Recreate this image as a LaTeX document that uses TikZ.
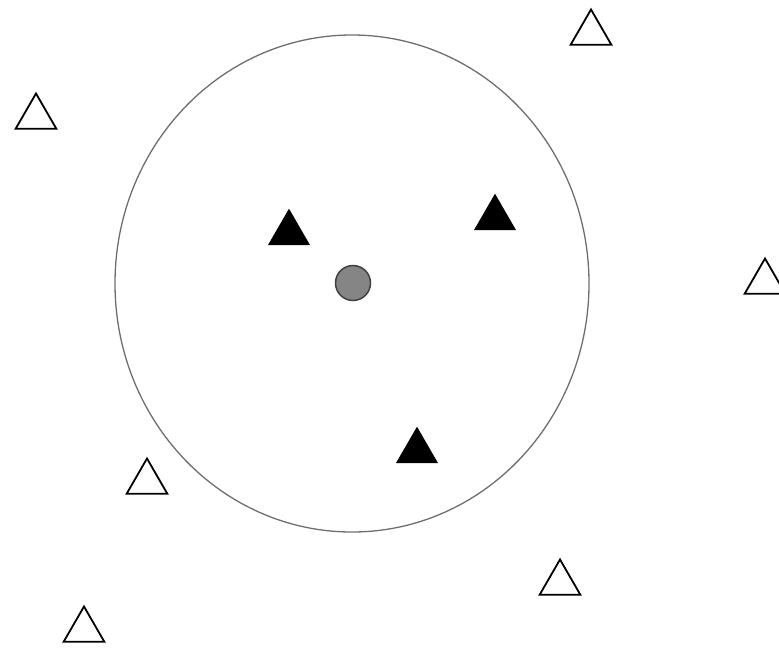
\documentclass[tikz,border=0pt]{standalone}
\usetikzlibrary{shapes.geometric}
\definecolor{ringgray}{HTML}{6E6E6E}
\definecolor{dotgray}{HTML}{858585}
\begin{document}
\begin{tikzpicture}[x=1pt,y=-1pt,
  tri/.style={regular polygon, regular polygon sides=3, inner sep=0pt, outer sep=0pt, minimum size=47pt, line width=1.8pt, draw=black},
  hollowtri/.style={tri, fill=white},
  solidtri/.style={tri, fill=black, line width=0.8pt},
  ring/.style={ellipse, draw=ringgray, line width=1.3pt, minimum width=474pt, minimum height=497pt, inner sep=0pt},
  dot/.style={circle, draw=black!75, fill=dotgray, line width=1.5pt, minimum size=35pt, inner sep=0pt}]
\useasboundingbox (0,0) rectangle (779,649);
\node[ring] (ring) at (352,283.5) {};
\node[dot] (c) at (353,283) {};
\node[solidtri] (f1) at (289,233) {};
\node[solidtri] (f2) at (495,218) {};
\node[solidtri] (f3) at (417,451) {};
\node[hollowtri] (h1) at (591,33) {};
\node[hollowtri] (h2) at (36,117) {};
\node[hollowtri] (h3) at (765,282) {};
\node[hollowtri] (h4) at (147,482) {};
\node[hollowtri] (h5) at (560,583) {};
\node[hollowtri] (h6) at (84,630) {};
\end{tikzpicture}
\end{document}
